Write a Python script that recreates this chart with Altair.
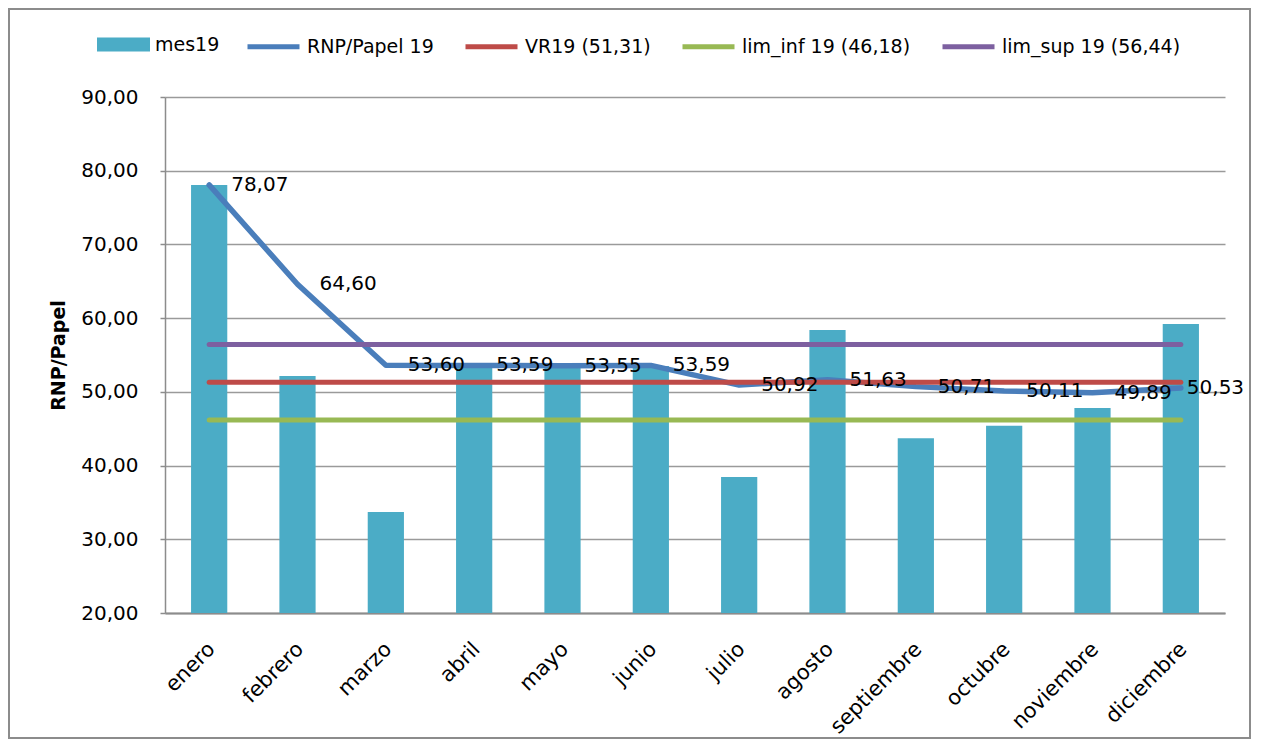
import altair as alt
import pandas as pd

# ---- data ----
months = ["enero", "febrero", "marzo", "abril", "mayo", "junio", "julio",
          "agosto", "septiembre", "octubre", "noviembre", "diciembre"]
mes19 = [78.07, 52.15, 33.7, 53.6, 53.6, 53.5, 38.45, 58.4, 43.7, 45.4, 47.8, 59.2]
rnp19 = [78.07, 64.60, 53.60, 53.59, 53.55, 53.59, 50.92, 51.63, 50.71, 50.11, 49.89, 50.53]
vr19 = 51.31
lim_inf19 = 46.18
lim_sup19 = 56.44

series_bar = "mes19"
series_lines = ["RNP/Papel 19", "VR19 (51,31)", "lim_inf 19 (46,18)", "lim_sup 19 (56,44)"]
line_colors = ["#4A7EBB", "#BE4B48", "#98B954", "#7D60A0"]
bar_color = "#4BACC6"

FONT = "DejaVu Sans"

bars_df = pd.DataFrame({"mes": months, "valor": mes19, "serie": series_bar})
rnp_df = pd.DataFrame({"mes": months, "valor": rnp19, "serie": series_lines[0]})
rnp_df["etiqueta"] = [f"{v:.2f}".replace(".", ",") for v in rnp19]
vr_df = pd.DataFrame({"mes": months, "valor": [vr19] * 12, "serie": series_lines[1]})
inf_df = pd.DataFrame({"mes": months, "valor": [lim_inf19] * 12, "serie": series_lines[2]})
sup_df = pd.DataFrame({"mes": months, "valor": [lim_sup19] * 12, "serie": series_lines[3]})

W, H = 1060, 516
PAD = {"left": 157, "top": 89, "right": 26, "bottom": 126}

x_enc = alt.X(
    "mes:N", sort=months, title=None,
    scale=alt.Scale(paddingInner=0.59, paddingOuter=0.295),
    axis=alt.Axis(labelAngle=-45, labelAlign="right", labelBaseline="top",
                  labelFont=FONT, labelFontSize=21, labelColor="black",
                  labelPadding=25, labelOffset=-5, ticks=False, domainColor="#8C8C8C",
                  domainWidth=2, grid=False),
)
y_scale = alt.Scale(domain=[20, 90], nice=False, zero=False)
y_enc = alt.Y(
    "valor:Q", scale=y_scale, title="RNP/Papel",
    axis=alt.Axis(values=list(range(20, 91, 10)),
                  labelExpr="replace(format(datum.value, '.2f'), '.', ',')",
                  labelFont=FONT, labelFontSize=20, labelColor="black",
                  labelPadding=22, tickSize=5, tickColor="#8C8C8C", tickWidth=1.5,
                  domainColor="#8C8C8C", domainWidth=1.5,
                  grid=True, gridColor="#9A9A9A", gridWidth=1.5,
                  titleFont=FONT, titleFontSize=19, titleFontWeight="bold",
                  titleColor="black", titlePadding=12),
)

bar_legend = alt.Legend(orient="none", legendX=-68, legendY=-79, direction="horizontal",
                        title=None, padding=0, labelFont=FONT, labelFontSize=19,
                        labelColor="black", labelOffset=5, labelLimit=400,
                        symbolType="M-1,-0.264H1V0.264H-1Z", symbolSize=2809,
                        symbolStrokeWidth=0, symbolOpacity=1)
line_legend = alt.Legend(orient="none", legendX=80, legendY=-79, direction="horizontal",
                         title=None, padding=0, labelFont=FONT, labelFontSize=19,
                         labelColor="black", labelOffset=5, columnPadding=21,
                         labelLimit=400,
                         symbolType="stroke", symbolSize=2704, symbolStrokeWidth=5,
                         symbolOpacity=1)

line_scale = alt.Scale(domain=series_lines, range=line_colors)

bars = alt.Chart(bars_df).mark_bar().encode(
    x=x_enc, y=y_enc, y2=alt.datum(20),
    fill=alt.Fill("serie:N", scale=alt.Scale(domain=[series_bar], range=[bar_color]),
                  legend=bar_legend),
)


def line_layer(df, width=5):
    return alt.Chart(df).mark_line(strokeWidth=width, strokeCap="round", strokeJoin="round").encode(
        x=alt.X("mes:N", sort=months),
        y=alt.Y("valor:Q"),
        color=alt.Color("serie:N", scale=line_scale, legend=line_legend),
    )


rnp_line = line_layer(rnp_df, 5.5)
vr_line = line_layer(vr_df)
inf_line = line_layer(inf_df)
sup_line = line_layer(sup_df)

labels_main = alt.Chart(rnp_df).transform_filter(
    alt.datum.mes != "diciembre"
).mark_text(align="left", baseline="middle", dx=22, font=FONT, fontSize=20, color="black").encode(
    x=alt.X("mes:N", sort=months), y=alt.Y("valor:Q"), text="etiqueta:N"
)
labels_last = alt.Chart(rnp_df).transform_filter(
    alt.datum.mes == "diciembre"
).mark_text(align="left", baseline="middle", dx=6, font=FONT, fontSize=20, color="black").encode(
    x=alt.X("mes:N", sort=months), y=alt.Y("valor:Q"), text="etiqueta:N"
)

border = alt.Chart(alt.Data(values=[{}])).mark_rect(
    fillOpacity=0, stroke="#8C8C8C", strokeWidth=2
).encode(
    x=alt.value(-PAD["left"] + 1), x2=alt.value(W + PAD["right"] - 1),
    y=alt.value(-PAD["top"] + 1), y2=alt.value(H + PAD["bottom"] - 1),
)

chart = alt.layer(
    bars, rnp_line, vr_line, inf_line, sup_line, labels_main, labels_last, border
).resolve_scale(x="shared", y="shared").properties(
    width=W, height=H, padding=PAD,
    autosize=alt.AutoSizeParams(type="none"),
    background="white",
).configure_view(stroke=None)

chart.save("out.html", embed_options={"renderer": "svg", "actions": False})
